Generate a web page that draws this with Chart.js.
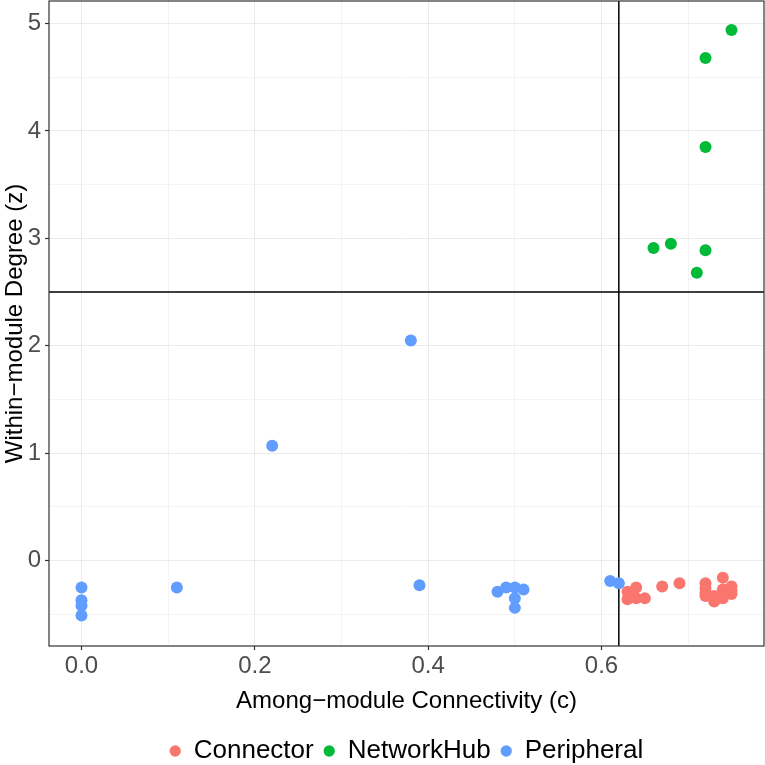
<!DOCTYPE html>
<html>
<head>
<meta charset="utf-8">
<script src="https://cdn.jsdelivr.net/npm/chart.js@4"></script>
<style>
  html, body { margin: 0; padding: 0; background: #ffffff; }
  #c { display: block; }
</style>
</head>
<body>
<canvas id="c" width="765" height="765"></canvas>
<script>
// ---- data ----
const seriesNames = ["Connector", "NetworkHub", "Peripheral"];
const seriesColors = ["#F8766D", "#00BA38", "#619CFF"];

const connectorX = [0.63, 0.64, 0.63, 0.64, 0.65, 0.67, 0.69, 0.72, 0.72, 0.73, 0.74, 0.74, 0.75, 0.75, 0.73, 0.74, 0.72, 0.75, 0.72];
const connectorY = [-0.29, -0.25, -0.36, -0.35, -0.35, -0.24, -0.21, -0.21, -0.30, -0.38, -0.16, -0.35, -0.24, -0.31, -0.33, -0.27, -0.26, -0.28, -0.33];

const hubX = [0.75, 0.72, 0.72, 0.66, 0.68, 0.72, 0.71];
const hubY = [4.94, 4.68, 3.85, 2.91, 2.95, 2.89, 2.68];

const peripheralX = [0, 0, 0, 0, 0.11, 0.22, 0.38, 0.39, 0.48, 0.49, 0.50, 0.51, 0.50, 0.50, 0.61, 0.62];
const peripheralY = [-0.25, -0.37, -0.42, -0.51, -0.25, 1.07, 2.05, -0.23, -0.29, -0.25, -0.25, -0.27, -0.35, -0.44, -0.19, -0.21];

const cThreshold = 0.62;
const zThreshold = 2.5;

const xMajorTicks = [0, 0.2, 0.4, 0.6];
const xMinorTicks = [0.1, 0.3, 0.5, 0.7];
const yMajorTicks = [0, 1, 2, 3, 4, 5];
const yMinorTicks = [-0.5, 0.5, 1.5, 2.5, 3.5, 4.5];

const xRange = [-0.0375, 0.7875];
const yRange = [-0.795, 5.21];

const xTitle = "Among\u2212module Connectivity (c)";
const yTitle = "Within\u2212module Degree (z)";

// ---- build datasets ----
function pts(xs, ys) { return xs.map((x, i) => ({ x: x, y: ys[i] })); }
const seriesData = [pts(connectorX, connectorY), pts(hubX, hubY), pts(peripheralX, peripheralY)];

const datasets = seriesNames.map((name, i) => ({
  label: name,
  data: seriesData[i],
  backgroundColor: seriesColors[i],
  borderColor: seriesColors[i],
  borderWidth: 0,
  pointRadius: 6,
  pointHoverRadius: 6,
  pointStyle: 'circle',
  order: i + 1
}));
datasets.push({
  label: '_vline',
  data: [{ x: cThreshold, y: yRange[0] }, { x: cThreshold, y: yRange[1] }],
  showLine: true, pointRadius: 0, borderColor: '#000000', borderWidth: 1.5, order: 10
});
datasets.push({
  label: '_hline',
  data: [{ x: xRange[0], y: zThreshold }, { x: xRange[1], y: zThreshold }],
  showLine: true, pointRadius: 0, borderColor: '#000000', borderWidth: 1.5, order: 11
});

const allX = xMajorTicks.concat(xMinorTicks).sort((a, b) => a - b);
const allY = yMajorTicks.concat(yMinorTicks).sort((a, b) => a - b);
const isMajor = (arr, v) => arr.some(m => Math.abs(m - v) < 1e-9);

const GRID = '#EBEBEB';
const GRID_MINOR = '#F3F3F3';

function zeroPad(s) { s.paddingTop = 0; s.paddingBottom = 0; s.paddingLeft = 0; s.paddingRight = 0; }

const panelBorder = {
  id: 'panelBorder',
  afterLayout(chart) {
    const ca = chart.chartArea;
    const lg = chart.legend;
    if (lg) {
      const shift = (ca.left + ca.right) / 2 - (lg.left + lg.right) / 2;
      lg.left += shift; lg.right += shift;
    }
  },
  afterDraw(chart) {
    const ca = chart.chartArea;
    const ctx = chart.ctx;
    ctx.save();
    ctx.strokeStyle = '#333333';
    ctx.lineWidth = 1.2;
    ctx.strokeRect(ca.left, ca.top, ca.right - ca.left, ca.bottom - ca.top);
    ctx.restore();
  }
};

new Chart(document.getElementById('c'), {
  type: 'scatter',
  data: { datasets: datasets },
  plugins: [panelBorder],
  options: {
    responsive: false,
    animation: false,
    devicePixelRatio: 1,
    layout: { autoPadding: false, padding: { left: 0, right: 1, top: 1, bottom: -9 } },
    plugins: {
      tooltip: { enabled: false },
      legend: {
        position: 'bottom',
        align: 'center',
        labels: {
          filter: (item) => !item.text.startsWith('_'),
          usePointStyle: true,
          pointStyle: 'circle',
          boxWidth: 11,
          boxHeight: 8,
          padding: 10,
          color: '#000000',
          font: { family: 'Liberation Sans, Arial, sans-serif', size: 26 }
        }
      }
    },
    scales: {
      x: {
        type: 'linear',
        min: xRange[0],
        max: xRange[1],
        afterBuildTicks: (s) => { s.ticks = allX.map(v => ({ value: v })); },
        afterFit: (s) => { s.height = 82; zeroPad(s); },
        border: { display: false },
        grid: {
          color: (c) => isMajor(xMajorTicks, c.tick.value) ? GRID : GRID_MINOR,
          lineWidth: 1,
          drawTicks: true,
          tickLength: 4,
          tickWidth: 1.2,
          tickColor: (c) => isMajor(xMajorTicks, c.tick.value) ? '#333333' : 'rgba(0,0,0,0)'
        },
        ticks: {
          autoSkip: false,
          maxRotation: 0,
          padding: 2,
          color: '#4D4D4D',
          font: { family: 'Liberation Sans, Arial, sans-serif', size: 24 },
          callback: (v) => isMajor(xMajorTicks, v) ? Number(v).toFixed(1) : ''
        },
        title: {
          display: true,
          text: xTitle,
          color: '#000000',
          padding: { top: 0, bottom: 12 },
          font: { family: 'Liberation Sans, Arial, sans-serif', size: 24 }
        }
      },
      y: {
        type: 'linear',
        min: yRange[0],
        max: yRange[1],
        afterBuildTicks: (s) => { s.ticks = allY.map(v => ({ value: v })); },
        afterFit: (s) => { s.width = 49; zeroPad(s); },
        border: { display: false },
        grid: {
          color: (c) => isMajor(yMajorTicks, c.tick.value) ? GRID : GRID_MINOR,
          lineWidth: 1,
          drawTicks: true,
          tickLength: 4,
          tickWidth: 1.2,
          tickColor: (c) => isMajor(yMajorTicks, c.tick.value) ? '#333333' : 'rgba(0,0,0,0)'
        },
        ticks: {
          autoSkip: false,
          padding: 4,
          color: '#4D4D4D',
          font: { family: 'Liberation Sans, Arial, sans-serif', size: 24 },
          callback: (v) => isMajor(yMajorTicks, v) ? String(Math.round(v)) : ''
        },
        title: {
          display: true,
          text: yTitle,
          color: '#000000',
          padding: { top: 1, bottom: 0 },
          font: { family: 'Liberation Sans, Arial, sans-serif', size: 24 }
        }
      }
    }
  }
});
</script>
</body>
</html>
